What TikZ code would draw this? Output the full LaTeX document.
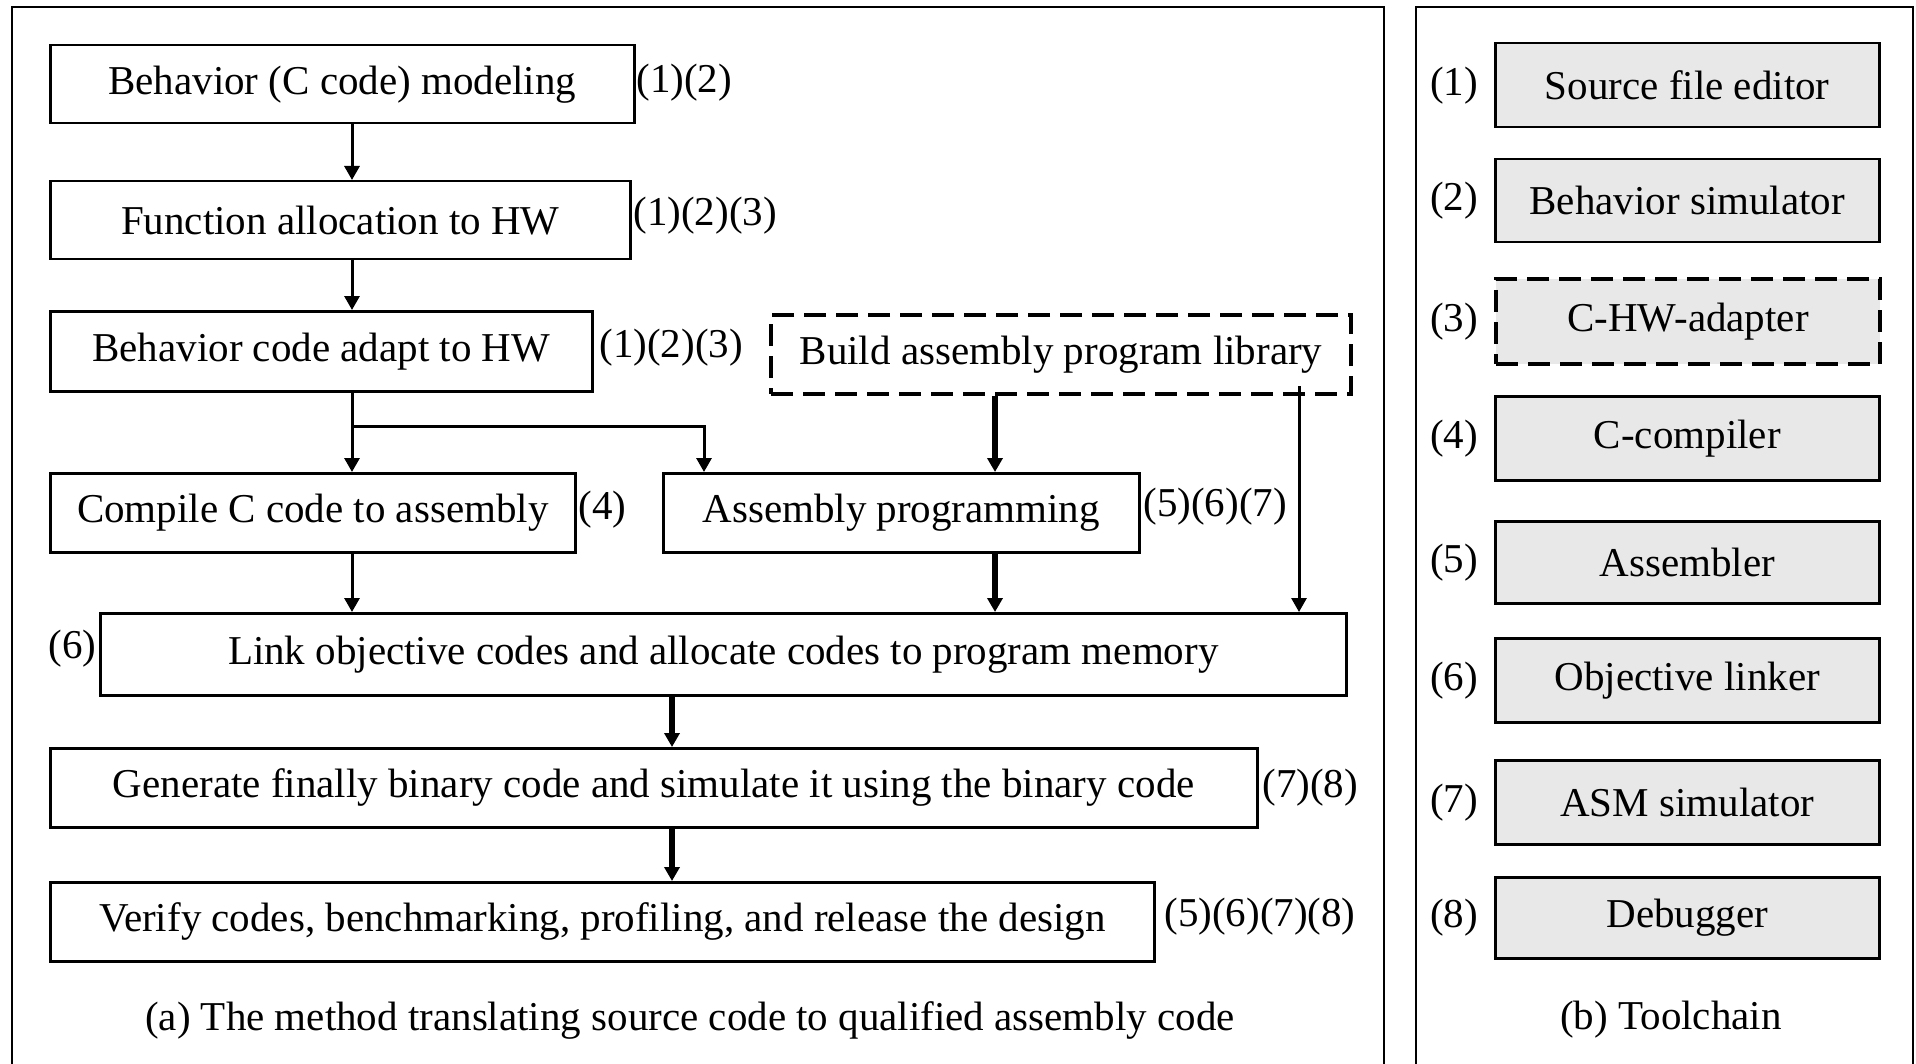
\documentclass[tikz,border=0pt]{standalone}
\usepackage{fontspec}
\setmainfont{Liberation Serif}
\usetikzlibrary{arrows.meta}
\definecolor{toolgrey}{RGB}{232,232,232}

\begin{document}
\begin{tikzpicture}[x=0.5pt,y=-0.5pt,
  every node/.style={font=\fontsize{20.5pt}{24pt}\selectfont},
  flow/.style={draw, line width=1.25pt, inner sep=0pt, anchor=north west},
  optflow/.style={flow, line width=2pt, dash pattern=on 11pt off 5pt},
  tool/.style={draw, line width=1.25pt, fill=toolgrey, inner sep=0pt,
    anchor=north west, minimum width=192pt},
  opttool/.style={tool, line width=2pt, dash pattern=on 11pt off 5pt},
  tag/.style={inner sep=0pt},
  frame/.style={draw, line width=1pt},
  thin/.style={line width=1.5pt, -{Triangle[length=7pt,width=7.5pt]}},
  thick/.style={line width=3pt, -{Triangle[length=7pt,width=7.5pt]}},
]
\useasboundingbox (0,0) rectangle (1916,1064);

% panel frames (open at the bottom edge)
\draw[frame] (12,1090) |- (1384,7) -- (1384,1090);
\draw[frame] (1416,1090) |- (1913,7) -- (1913,1090);

% --- (a) design flow ---
\node[flow, minimum width=292pt, minimum height=39pt] (A) at (49,44) {Behavior (C code) modeling};
\node[flow, minimum width=290pt, minimum height=39pt] (B) at (49,180) {Function allocation to HW};
\node[flow, minimum width=271pt, minimum height=40pt] (C) at (49,310) {Behavior code adapt to HW};
\node[optflow, minimum width=290pt, minimum height=39.5pt] (D) at (769,313) {Build assembly program library};
\node[flow, minimum width=262.5pt, minimum height=39.5pt] (E) at (49,472) {Compile C code to assembly};
\node[flow, minimum width=238pt, minimum height=39.5pt] (F) at (662,472) {Assembly programming};
\node[flow, minimum width=623pt, minimum height=41pt] (G) at (99,612) {Link objective codes and allocate codes to program memory};
\node[flow, minimum width=603.5pt, minimum height=39.5pt] (H) at (49,747) {Generate finally binary code and simulate it using the binary code};
\node[flow, minimum width=552pt, minimum height=39.5pt] (I) at (49,881) {Verify codes, benchmarking, profiling, and release the design};

% tool references beside each step
\node[tag, anchor=west] (tA) at (636,83) {(1)(2)};
\node[tag, anchor=west] (tB) at (633,216) {(1)(2)(3)};
\node[tag, anchor=west] (tC) at (599,348) {(1)(2)(3)};
\node[tag, anchor=west] (tE) at (578,510) {(4)};
\node[tag, anchor=west] (tF) at (1143,507) {(5)(6)(7)};
\node[tag, anchor=east] (tG) at (97,649) {(6)};
\node[tag, anchor=west] (tH) at (1262,788) {(7)(8)};
\node[tag, anchor=west] (tI) at (1164,917) {(5)(6)(7)(8)};

% connector columns
\coordinate (col1) at (352,0);
\coordinate (col2) at (995,0);
\coordinate (col3) at (672,0);
\coordinate (split) at (352,426);
\coordinate (libtap) at (1299,386);

\draw[thin] (A.south -| col1) -- (B.north -| col1);
\draw[thin] (B.south -| col1) -- (C.north -| col1);
\draw[thin] (C.south -| col1) -- (E.north -| col1);
\draw[thin] (split) -| ([xshift=21pt]F.north west);
\draw[thin] (E.south -| col1) -- (G.north -| col1);
\draw[thick] (D.south -| col2) -- (F.north -| col2);
\draw[thick] (F.south -| col2) -- (G.north -| col2);
\draw[thin] (libtap) -- (libtap |- G.north);
\draw[thick] (G.south -| col3) -- (H.north -| col3);
\draw[thick] (H.south -| col3) -- (I.north -| col3);

\node (capA) at (690,1020) {(a) The method translating source code to qualified assembly code};

% --- (b) toolchain ---
\node[tool, minimum height=42pt] (T1) at (1494,42) {Source file editor};
\node[tool, minimum height=41.5pt] (T2) at (1494,158) {Behavior simulator};
\node[opttool, minimum height=42.5pt] (T3) at (1494,277) {C-HW-adapter};
\node[tool, minimum height=42pt] (T4) at (1494,395) {C-compiler};
\node[tool, minimum height=41pt] (T5) at (1494,520) {Assembler};
\node[tool, minimum height=42pt] (T6) at (1494,637) {Objective linker};
\node[tool, minimum height=42pt] (T7) at (1494,759) {ASM simulator};
\node[tool, minimum height=40.5pt] (T8) at (1494,876) {Debugger};

\coordinate (tagcol) at (1454,0);
\foreach \k in {1,...,8}
  \node[tag] (n\k) at (tagcol |- T\k.center) {(\k)};

\node (capB) at (1671,1020) {(b) Toolchain};
\end{tikzpicture}
\end{document}
